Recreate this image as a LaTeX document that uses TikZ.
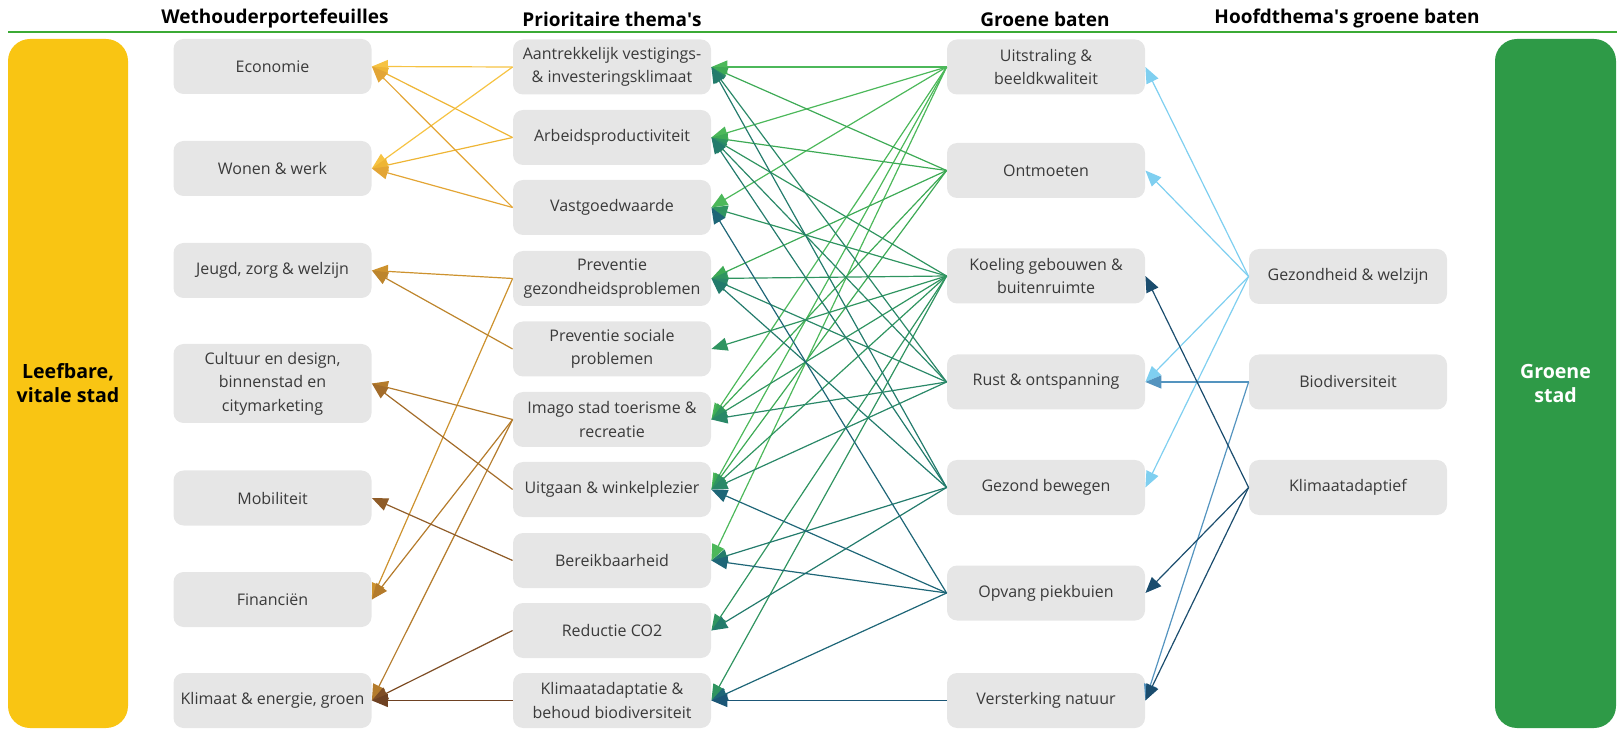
\documentclass[tikz,border=0pt]{standalone}
\usepackage{fontspec}
\setmainfont{Open Sans}
\usepackage{xcolor}
\usetikzlibrary{arrows.meta}
\definecolor{boxgray}{HTML}{E6E6E6}
\definecolor{textgray}{HTML}{3A3A3A}
\definecolor{barylw}{HTML}{F9C513}
\definecolor{bargrn}{HTML}{2E9A47}
\definecolor{rulegrn}{HTML}{3BAA35}
% left side, darker from top to bottom
\definecolor{ylw1}{HTML}{F6C343}
\definecolor{ylw2}{HTML}{EEB535}
\definecolor{ylw3}{HTML}{E3A535}
\definecolor{brn4}{HTML}{CD922E}
\definecolor{brn5}{HTML}{BD852C}
\definecolor{brn6}{HTML}{B47B2B}
\definecolor{brn7}{HTML}{A36C2A}
\definecolor{brn8}{HTML}{8F5C28}
\definecolor{brn9}{HTML}{7E4D25}
\definecolor{brn10}{HTML}{6E4122}
% green benefits
\definecolor{grn1}{HTML}{4CB85A}
\definecolor{grn2}{HTML}{3DAA55}
\definecolor{grn3}{HTML}{2F9460}
\definecolor{grn4}{HTML}{2A8868}
\definecolor{grn5}{HTML}{237B6C}
\definecolor{grn6}{HTML}{1E6677}
\definecolor{grn7}{HTML}{1B5676}
% main themes
\definecolor{blu1}{HTML}{7FCFF0}
\definecolor{blu2}{HTML}{5494BF}
\definecolor{blu3}{HTML}{1B4D6E}
\tikzset{
  box/.style={fill=boxgray, rounded corners=5pt, minimum width=99pt,
    minimum height=27.5pt, align=center, text=textgray, inner sep=0pt,
    font=\fontsize{8}{11.8}\selectfont},
  bar/.style={rounded corners=11pt, minimum width=60pt, minimum height=344.5pt,
    inner sep=0pt, align=center, font=\bfseries\fontsize{9.8}{12}\selectfont},
  colhead/.style={font=\bfseries\fontsize{9.5}{11}\selectfont, text=black},
  link/.style={-{Triangle[length=8pt,width=6.5pt]}, line width=0.6pt}
}

\begin{document}
\begin{tikzpicture}[x=0.5pt,y=-0.5pt]
  \useasboundingbox (0,0) rectangle (1617,732);

  % headers
  \node[colhead] (hw) at (275,19) {Wethouderportefeuilles};
  \node[colhead] (hp) at (612,19) {Prioritaire thema\textquotesingle s};
  \node[colhead] (hg) at (1045,19) {Groene baten};
  \node[colhead] (hh) at (1347,19) {Hoofdthema\textquotesingle s groene baten};
  \draw[rulegrn, line width=1.3pt] (8,32) -- (1617,32);

  % side bars
  \node[bar, fill=barylw, text=black] (leefbaar) at (68,383.5) {Leefbare,\\vitale stad};
  \node[bar, fill=bargrn, text=white, minimum width=60.5pt] (groen) at (1555.5,383.5) {Groene\\stad};

  % wethouderportefeuilles
  \node[box] (w1) at (272.5,66.5) {Economie};
  \node[box] (w2) at (272.5,168.5) {Wonen \& werk};
  \node[box] (w3) at (272.5,270.5) {Jeugd, zorg \& welzijn};
  \node[box, minimum height=39.5pt] (w4) at (272.5,383.5) {Cultuur en design,\\binnenstad en\\citymarketing};
  \node[box] (w5) at (272.5,498) {Mobiliteit};
  \node[box] (w6) at (272.5,599.5) {Financiën};
  \node[box] (w7) at (272.5,700.5) {Klimaat \& energie, groen};

  % prioritaire thema's
  \node[box] (p1) at (612,67) {Aantrekkelijk vestigings-\\\& investeringsklimaat};
  \node[box] (p2) at (612,137.5) {Arbeidsproductiviteit};
  \node[box] (p3) at (612,207.5) {Vastgoedwaarde};
  \node[box] (p4) at (612,278.5) {Preventie\\gezondheidsproblemen};
  \node[box] (p5) at (612,349) {Preventie sociale\\problemen};
  \node[box] (p6) at (612,419.5) {Imago stad toerisme \&\\recreatie};
  \node[box] (p7) at (612,489.5) {Uitgaan \& winkelplezier};
  \node[box] (p8) at (612,560.5) {Bereikbaarheid};
  \node[box] (p9) at (612,630.5) {Reductie CO2};
  \node[box] (p10) at (612,700.5) {Klimaatadaptatie \&\\behoud biodiversiteit};

  % groene baten
  \node[box] (g1) at (1046,67) {Uitstraling \&\\beeldkwaliteit};
  \node[box] (g2) at (1046,170.5) {Ontmoeten};
  \node[box] (g3) at (1046,276) {Koeling gebouwen \&\\buitenruimte};
  \node[box] (g4) at (1046,382) {Rust \& ontspanning};
  \node[box] (g5) at (1046,487.5) {Gezond bewegen};
  \node[box] (g6) at (1046,593) {Opvang piekbuien};
  \node[box] (g7) at (1046,700.5) {Versterking natuur};

  % hoofdthema's
  \node[box] (h1) at (1348,276.5) {Gezondheid \& welzijn};
  \node[box] (h2) at (1348,382) {Biodiversiteit};
  \node[box] (h3) at (1348,487.5) {Klimaatadaptief};

  % thema -> portefeuille
  \foreach \src/\col/\dsts in {p1/ylw1/{w1,w2}, p2/ylw2/{w1,w2}, p3/ylw3/{w1,w2},
      p4/brn4/{w3,w6}, p5/brn5/{w3}, p6/brn6/{w4,w6,w7}, p7/brn7/{w4},
      p8/brn8/{w5}, p9/brn9/{w7}, p10/brn10/{w7}}
    \foreach \dst in \dsts
      \draw[link, \col] (\src.west) -- (\dst.east);

  % baat -> thema
  \foreach \src/\col/\dsts in {g1/grn1/{p1,p2,p3,p6,p7,p8},
      g2/grn2/{p1,p2,p4,p6,p7}, g3/grn3/{p2,p3,p4,p5,p6,p7,p9,p10},
      g4/grn4/{p1,p2,p4,p6,p7}, g5/grn5/{p1,p2,p4,p8,p9},
      g6/grn6/{p3,p7,p8,p10}, g7/grn7/{p10}}
    \foreach \dst in \dsts
      \draw[link, \col] (\src.west) -- (\dst.east);

  % hoofdthema -> baat
  \foreach \src/\col/\dsts in {h1/blu1/{g1,g2,g4,g5}, h2/blu2/{g4,g7}, h3/blu3/{g3,g6,g7}}
    \foreach \dst in \dsts
      \draw[link, \col] (\src.west) -- (\dst.east);
\end{tikzpicture}
\end{document}
